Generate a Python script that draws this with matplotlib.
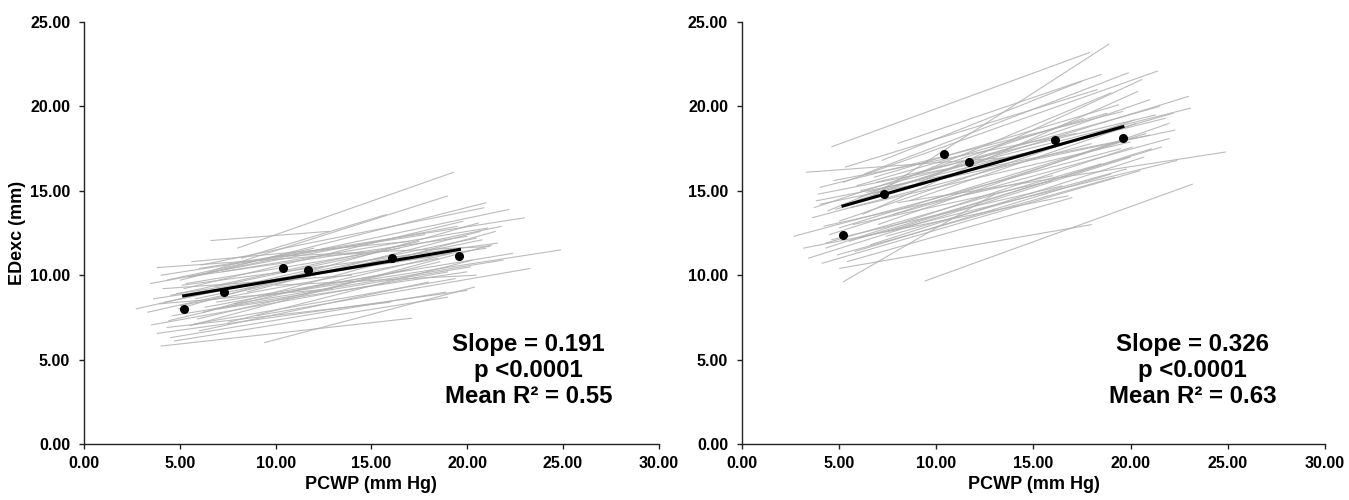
import matplotlib
matplotlib.use("Agg")
import matplotlib.pyplot as plt
from matplotlib.ticker import FormatStrFormatter, MultipleLocator

plt.rcParams['font.family'] = ['Liberation Sans', 'DejaVu Sans']
plt.rcParams['font.weight'] = 'bold'

# Group means of PCWP (x) and EDexc (y)
pcwp_means = [5.2, 7.3, 10.4, 11.7, 16.1, 19.6]
edexc_rest = [7.97, 8.99, 10.43, 10.31, 11.00, 11.14]
edexc_exercise = [12.40, 14.83, 17.16, 16.73, 18.03, 18.10]

# Mean regression: slope and value at the centre of the PCWP range
slope_rest, centre_rest = 0.191, 10.15
slope_exercise, centre_exercise = 0.326, 16.45
fit_x = [5.2, 19.6]
fit_centre_x = 12.4

stats_rest = ["Slope = 0.191", "p <0.0001", "Mean R² = 0.55"]
stats_exercise = ["Slope = 0.326", "p <0.0001", "Mean R² = 0.63"]

# Individual subject regression lines (start/end PCWP, start/end EDexc)
rest_x0 = [8.0, 6.5, 5.0, 5.5, 6.0, 9.5, 9.0, 6.6, 2.7, 3.3, 4.0, 3.8, 9.4, 3.45,
           3.5, 3.8, 4.5, 5.5, 4.2, 4.8, 5.2, 4.6, 5.0, 6.2, 4.0, 5.8, 4.4, 6.0,
           7.0, 5.3, 4.9, 6.8, 3.6, 5.6, 7.5, 4.3, 6.4, 5.1, 8.2, 4.7, 6.9, 5.9,
           4.1, 7.2, 5.4, 6.3, 3.9, 8.5, 5.7, 4.5, 10.0, 6.1, 7.8, 4.3, 9.8]
rest_x1 = [19.3, 19.0, 21.0, 22.2, 23.0, 24.9, 23.3, 12.8, 12.5, 15.5, 17.1, 14.5,
           20.4, 19.5, 19.0, 20.0, 18.9, 21.3, 20.5, 21.0, 19.8, 20.2, 18.5, 21.5,
           17.8, 20.8, 19.2, 18.0, 20.0, 16.5, 20.6, 21.8, 18.2, 17.0, 20.3, 16.0,
           19.6, 21.6, 15.8, 19.0, 22.4, 18.6, 14.0, 21.1, 20.0, 16.8, 13.0, 20.7,
           19.4, 17.5, 20.5, 20.9, 21.9, 12.0, 21.2]
rest_y0 = [11.6, 10.2, 9.7, 9.9, 10.4, 8.8, 7.6, 12.05, 8.0, 7.8, 5.8, 10.45, 6.0,
           9.5, 7.05, 6.55, 6.3, 7.0, 8.4, 8.9, 9.2, 7.6, 8.2, 7.8, 10.0, 8.6, 7.3,
           6.7, 8.0, 9.5, 8.0, 9.3, 8.6, 10.8, 7.2, 6.9, 9.0, 9.4, 11.0, 6.1, 8.4,
           7.4, 9.2, 10.2, 9.9, 8.1, 8.3, 9.0, 7.1, 8.8, 9.4, 10.6, 8.3, 9.7, 11.1]
rest_y1 = [16.1, 14.7, 14.3, 13.9, 13.4, 11.5, 10.4, 12.6, 10.5, 10.9, 7.45, 11.3,
           9.3, 12.9, 10.2, 9.1, 9.0, 11.8, 12.2, 11.6, 13.2, 10.5, 11.0, 12.6,
           12.4, 12.1, 11.3, 9.6, 10.2, 11.6, 13.1, 12.9, 11.1, 12.0, 10.9, 8.4,
           11.5, 11.9, 13.6, 8.7, 11.3, 10.8, 10.0, 12.8, 12.3, 10.3, 9.2, 12.6,
           9.8, 12.0, 10.0, 14.0, 10.9, 11.6, 11.7]

ex_x0 = [4.6, 6.5, 5.2, 6.0, 4.8, 4.0, 8.0, 9.4, 2.65, 3.15, 3.4, 4.1, 3.3, 5.2,
         3.8, 4.0, 5.0, 4.5, 5.5, 6.2, 4.3, 5.8, 7.0, 3.6, 5.0, 6.8, 4.7, 5.6,
         7.5, 4.2, 6.4, 5.3, 8.2, 4.9, 6.0, 7.2, 3.9, 5.1, 6.6, 4.4, 5.9, 7.8,
         4.6, 6.3, 5.4, 8.6, 3.7, 6.9, 5.7, 9.0, 4.3, 7.4, 6.1, 5.0, 8.0]
ex_x1 = [17.9, 18.9, 21.4, 23.0, 22.2, 22.3, 24.9, 23.2, 19.5, 16.8, 20.0, 20.5,
         14.0, 13.0, 21.0, 19.6, 20.2, 19.8, 21.6, 20.4, 18.5, 19.0, 22.0, 18.0,
         20.8, 19.4, 17.2, 20.0, 21.1, 16.0, 21.8, 18.3, 20.6, 19.2, 22.4, 17.5,
         15.0, 21.0, 20.7, 19.0, 18.8, 22.0, 16.5, 19.9, 17.0, 20.3, 17.6, 21.3,
         16.0, 21.5, 20.1, 19.8, 23.1, 18.0, 18.5]
ex_y0 = [17.6, 14.5, 15.5, 14.6, 13.9, 14.2, 14.3, 9.65, 12.3, 11.6, 11.0, 10.7,
         16.1, 9.6, 14.4, 15.2, 13.2, 12.4, 12.0, 13.6, 11.9, 11.4, 13.0, 13.4,
         12.8, 15.8, 15.6, 14.0, 12.6, 12.9, 14.9, 16.4, 15.0, 11.2, 12.2, 16.8,
         14.8, 14.1, 11.8, 13.8, 15.3, 13.6, 12.1, 16.0, 10.8, 14.4, 14.0, 15.5,
         13.0, 16.0, 11.6, 12.3, 15.0, 10.4, 17.8]
ex_y1 = [23.2, 23.7, 22.1, 20.6, 19.6, 18.6, 17.3, 15.4, 17.5, 14.7, 17.0, 16.2,
         17.0, 14.8, 18.3, 19.7, 19.2, 18.0, 17.6, 20.9, 16.6, 16.0, 19.0, 17.8,
         18.4, 20.1, 18.4, 17.9, 17.5, 15.9, 19.3, 21.0, 21.6, 15.8, 16.8, 21.5,
         17.3, 20.4, 17.0, 20.8, 19.6, 18.1, 15.3, 22.0, 14.6, 19.0, 19.3, 19.5,
         15.6, 20.0, 17.6, 16.3, 19.9, 13.0, 21.9]

x_label = "PCWP (mm Hg)"
y_label = "EDexc (mm)"

fig = plt.figure(figsize=(13.49, 5.0), dpi=100)
ax_rest = fig.add_axes([0.0623, 0.112, 0.4260, 0.844])
ax_ex = fig.add_axes([0.5500, 0.112, 0.4322, 0.844])


def draw_panel(ax, x0, x1, y0, y1, means, slope, centre, stats):
    for a, b, c, d in zip(x0, x1, y0, y1):
        ax.plot([a, b], [c, d], color='#b0b0b0', lw=0.8, alpha=0.85,
                solid_capstyle='butt', zorder=1)
    fit_y = [centre + slope * (x - fit_centre_x) for x in fit_x]
    ax.plot(fit_x, fit_y, color='black', lw=2.2, zorder=3)
    ax.plot(pcwp_means, means, 'o', color='black', ms=5.5, zorder=4)

    ax.set_xlim(0, 30)
    ax.set_ylim(0, 25)
    ax.xaxis.set_major_locator(MultipleLocator(5))
    ax.yaxis.set_major_locator(MultipleLocator(5))
    ax.xaxis.set_major_formatter(FormatStrFormatter('%.2f'))
    ax.yaxis.set_major_formatter(FormatStrFormatter('%.2f'))
    for side in ('top', 'right'):
        ax.spines[side].set_visible(False)
    for side in ('left', 'bottom'):
        ax.spines[side].set_linewidth(1.0)
        ax.spines[side].set_color('#222222')
    ax.tick_params(direction='out', length=3.5, width=1.0, colors='#222222',
                   labelsize=11.5, labelcolor='black')
    ax.tick_params(axis='x', pad=5)
    ax.tick_params(axis='y', pad=6.5)
    for lab in ax.get_xticklabels() + ax.get_yticklabels():
        lab.set_fontweight('bold')
    ax.set_xlabel(x_label, fontsize=13, fontweight='bold', labelpad=4)

    ax.text(23.2, 4.35, "\n".join(stats), ha='center', va='center',
            fontsize=17.3, fontweight='bold', linespacing=1.15, zorder=5)


draw_panel(ax_rest, rest_x0, rest_x1, rest_y0, rest_y1, edexc_rest,
           slope_rest, centre_rest, stats_rest)
draw_panel(ax_ex, ex_x0, ex_x1, ex_y0, ex_y1, edexc_exercise,
           slope_exercise, centre_exercise, stats_exercise)
ax_rest.set_ylabel(y_label, fontsize=13, fontweight='bold', labelpad=3)

fig.savefig("out.png", dpi=100, facecolor='white')
